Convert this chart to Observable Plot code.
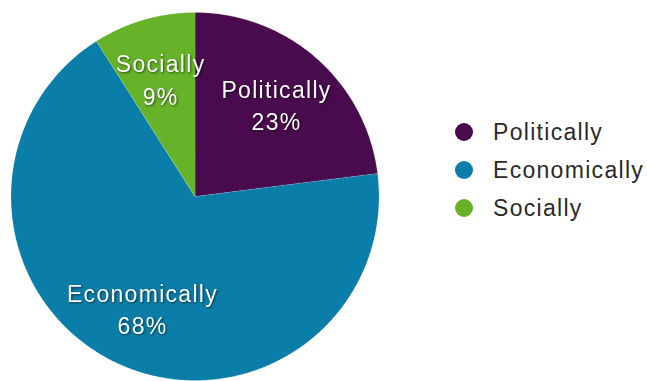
<!DOCTYPE html>
<html>
<head>
<meta charset="utf-8">
<script src="https://cdn.jsdelivr.net/npm/d3@7"></script>
<script src="https://cdn.jsdelivr.net/npm/@observablehq/plot@0.6"></script>
<style>
  html, body { margin: 0; padding: 0; background: #fff; }
  #wrap { position: relative; width: 647px; height: 381px; overflow: hidden; }
  #wrap svg text { letter-spacing: 1.3px; }
  #wrap svg g[aria-label="text"] { filter: drop-shadow(1px 1.5px 1px rgba(0,0,0,0.55)); }
  #legend { position: absolute; left: 455px; top: 113px; font-family: "Liberation Sans", Arial, sans-serif; font-size: 23px; letter-spacing: 1.3px; color: #2a2a2a; }
  .row { display: flex; align-items: center; height: 38px; }
  .dot { width: 18px; height: 18px; border-radius: 50%; margin-right: 20px; flex: none; }
</style>
</head>
<body>
<div id="wrap"></div>
<script>
const categories = ["Politically", "Economically", "Socially"];
const values = [23, 68, 9];
const colors = ["#4a0a4e", "#0a7da8", "#66b32a"];

const total = d3.sum(values);
const TAU = 2 * Math.PI;
function pt(a, r) { return [r * Math.sin(a), -r * Math.cos(a)]; }
function arcRing(a0, a1, withCenter) {
  const n = Math.max(2, Math.ceil((a1 - a0) / (Math.PI / 360)));
  const ring = withCenter ? [[0, 0]] : [];
  for (let i = 0; i <= n; i++) ring.push(pt(a0 + (a1 - a0) * i / n, 1));
  ring.push(ring[0]);
  return ring;
}

let acc = 0;
const slices = [];
const labels = [];
categories.forEach((c, i) => {
  const a0 = acc / total * TAU;
  acc += values[i];
  const a1 = acc / total * TAU;
  slices.push({type: "Feature", properties: {category: c}, geometry: {type: "Polygon", coordinates: [arcRing(a0, a1, true)]}});
  const [x, y] = pt((a0 + a1) / 2, 0.67);
  labels.push({x, y, text: `${c}\n${values[i]}%`});
});
const outline = {type: "Feature", properties: {}, geometry: {type: "Polygon", coordinates: [arcRing(0, TAU, false)]}};

const chart = Plot.plot({
  width: 647,
  height: 381,
  marginLeft: 10.5,
  marginRight: 268.5,
  marginTop: 12,
  marginBottom: 1,
  style: {fontFamily: "'Liberation Sans', Arial, sans-serif", background: "transparent"},
  projection: {type: "identity", domain: outline},
  color: {domain: categories, range: colors},
  marks: [
    Plot.geo(slices, {fill: d => d.properties.category, stroke: "#ffffff", strokeOpacity: 0.25, strokeWidth: 0.6}),
    Plot.text(labels, {x: "x", y: "y", text: "text", fill: "white", fontSize: 23, lineHeight: 1.4})
  ]
});
document.getElementById("wrap").appendChild(chart);

const legend = document.createElement("div");
legend.id = "legend";
categories.forEach((c, i) => {
  const row = document.createElement("div");
  row.className = "row";
  const dot = document.createElement("span");
  dot.className = "dot";
  dot.style.background = colors[i];
  const label = document.createElement("span");
  label.textContent = c;
  row.appendChild(dot);
  row.appendChild(label);
  legend.appendChild(row);
});
document.getElementById("wrap").appendChild(legend);
</script>
</body>
</html>
